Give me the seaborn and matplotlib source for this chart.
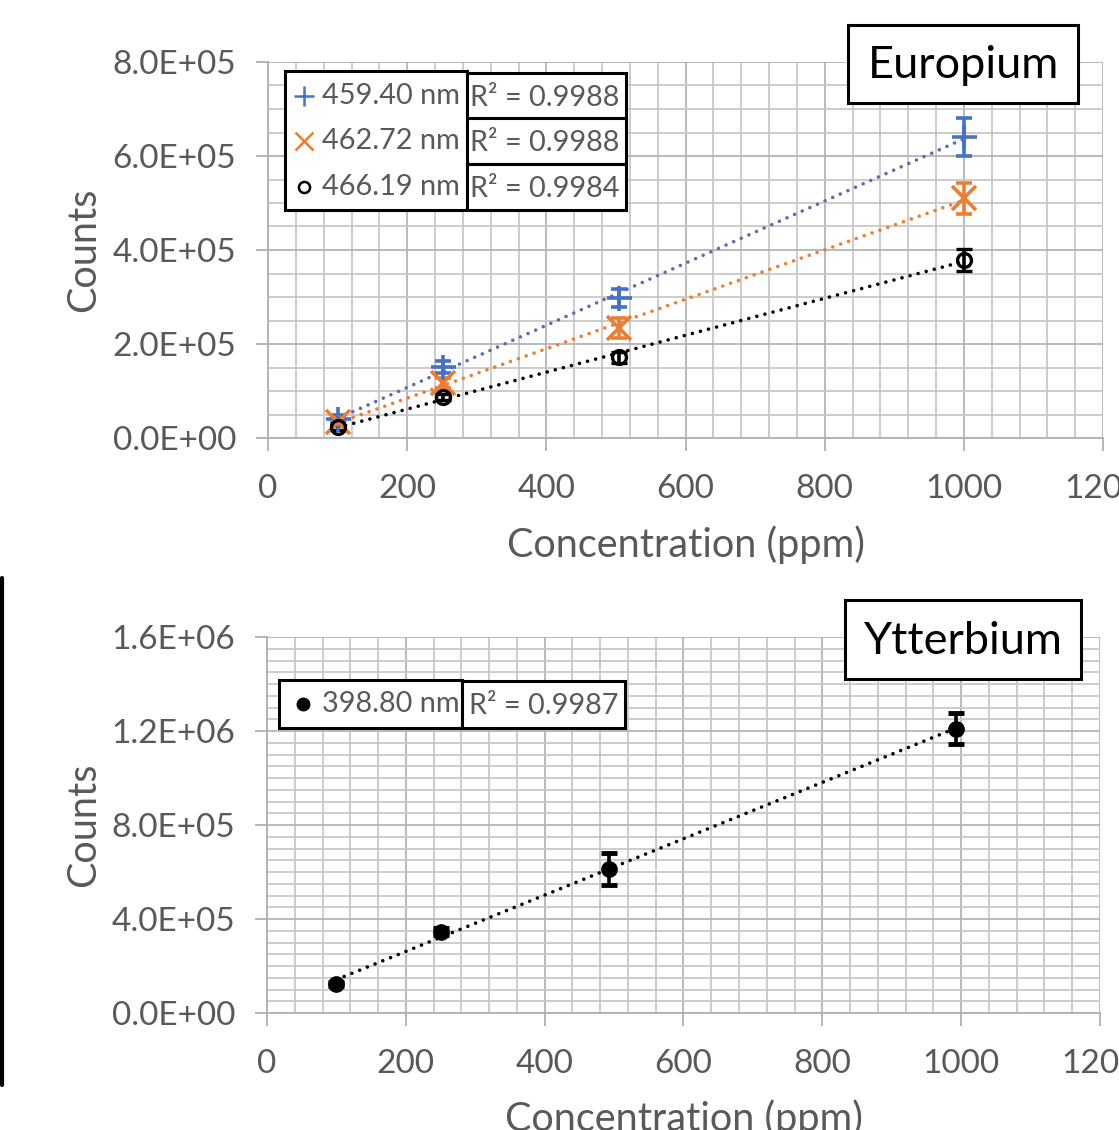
import numpy as np
import pandas as pd
import seaborn as sns
import matplotlib
matplotlib.use("Agg")
import matplotlib.pyplot as plt
from matplotlib.patches import Rectangle
from matplotlib.lines import Line2D
from matplotlib.ticker import MultipleLocator, FuncFormatter

# ---------------- data ----------------
eu_conc = [100, 252, 505, 1000]
eu_459 = [4.0e4, 1.51e5, 2.98e5, 6.40e5]
eu_459_err = [8e3, 1.2e4, 1.9e4, 4.1e4]
eu_462 = [3.4e4, 1.17e5, 2.34e5, 5.10e5]
eu_462_err = [8e3, 1.0e4, 2.1e4, 3.3e4]
eu_466 = [2.3e4, 8.7e4, 1.72e5, 3.79e5]
eu_466_err = [5e3, 6e3, 1.2e4, 2.4e4]
eu_labels = ["459.40 nm", "462.72 nm", "466.19 nm"]
eu_r2 = ["R² = 0.9988", "R² = 0.9988", "R² = 0.9984"]

yb_conc = [100, 250, 493, 993]
yb_398 = [1.23e5, 3.45e5, 6.13e5, 1.209e6]
yb_398_err = [1.0e4, 1.5e4, 6.8e4, 6.6e4]
yb_labels = ["398.80 nm"]
yb_r2 = ["R² = 0.9987"]

W, H = 1119, 1130
sns.set_style("white")
FONT = ["Lato", "DejaVu Sans"]
plt.rcParams["font.family"] = FONT
GRAY_TXT = "#595959"

fig = plt.figure(figsize=(W / 100, H / 100), dpi=100)


def fx(px):
    return px / W


def fy(py):
    return 1 - py / H


def make_axes(l, t, r, b):
    return fig.add_axes([fx(l), fy(b), fx(r) - fx(l), (b - t) / H])


ax1 = make_axes(268, 62, 1103, 438)
ax2 = make_axes(267, 637, 1100, 1013)


def style_axes(ax, ymax, ymajor):
    ax.set_xlim(0, 1200)
    ax.set_ylim(0, ymax)
    ax.xaxis.set_major_locator(MultipleLocator(200))
    ax.xaxis.set_minor_locator(MultipleLocator(40))
    ax.yaxis.set_major_locator(MultipleLocator(ymajor))
    ax.yaxis.set_minor_locator(MultipleLocator(5e4))
    ax.yaxis.set_major_formatter(FuncFormatter(lambda v, p: f"{v:.1E}"))
    ax.xaxis.set_major_formatter(FuncFormatter(lambda v, p: f"{int(round(v))}"))
    ax.grid(True, which="major", color="#b4b4b4", lw=1.3, zorder=0)
    ax.grid(True, which="minor", color="#c8c8c8", lw=1.3, zorder=0)
    ax.set_axisbelow(True)
    for s in ["top", "right"]:
        ax.spines[s].set_visible(False)
    for s in ["left", "bottom"]:
        ax.spines[s].set_color("#b0b0b0")
        ax.spines[s].set_linewidth(1.3)
    ax.tick_params(which="major", direction="out", length=9, width=1.3,
                   color="#b0b0b0", labelsize=24, labelcolor=GRAY_TXT,
                   bottom=True, left=True)
    ax.tick_params(axis="x", which="major", pad=17)
    ax.tick_params(axis="y", which="major", pad=14)
    ax.tick_params(which="minor", length=0)
    for lab in ax.get_xticklabels() + ax.get_yticklabels():
        lab.set_clip_on(False)


style_axes(ax1, 8e5, 2e5)
style_axes(ax2, 1.6e6, 4e5)

DOT = (0, (0.01, 2.3))

# ---------------- Europium ----------------
blue, orange, black = "#4472C4", "#ED7D31", "#000000"
eu_series = [
    (eu_459, eu_459_err, blue, "#5b6fa8", "+", 18, 2.6, "none"),
    (eu_462, eu_462_err, orange, orange, "x", 17, 2.6, "none"),
    (eu_466, eu_466_err, black, black, "o", 10, 2.4, "none"),
]
for vals, errs, col, lcol, mk, ms, mew, mfc in eu_series:
    df = pd.DataFrame({"conc": eu_conc, "counts": vals})
    sns.regplot(data=df, x="conc", y="counts", ax=ax1, scatter=False, ci=None,
                truncate=True,
                line_kws=dict(color=lcol, lw=2.6, ls=DOT,
                              dash_capstyle="round", zorder=3))
    ax1.errorbar(eu_conc, vals, yerr=errs, fmt=mk, color=col, ms=ms, mew=mew,
                 mfc=mfc, mec=col, ecolor=col, elinewidth=2.6, capsize=6,
                 capthick=3.5, zorder=4)

# ---------------- Ytterbium ----------------
df = pd.DataFrame({"conc": yb_conc, "counts": yb_398})
sns.regplot(data=df, x="conc", y="counts", ax=ax2, scatter=False, ci=None,
            truncate=True,
            line_kws=dict(color=black, lw=2.6, ls=DOT,
                          dash_capstyle="round", zorder=3))
ax2.errorbar(yb_conc, yb_398, yerr=yb_398_err, fmt="o", color=black, ms=11,
             ecolor=black, elinewidth=2.6, capsize=6, capthick=3.5, zorder=4)

for ax, ycx in [(ax1, -0.285), (ax2, -0.28)]:
    ax.set_xlabel("Concentration (ppm)", fontsize=28.5, color=GRAY_TXT)
    ax.set_ylabel("Counts", fontsize=28.5, color=GRAY_TXT)
    ax.xaxis.set_label_coords(0.5, ycx)
    ax.xaxis.label.set_va("center")
    ax.yaxis.set_label_coords((84 - 268) / 835, 0.5)
    ax.yaxis.label.set_va("center")
    ax.xaxis.label.set_clip_on(False)


# ---------------- boxes (legend + R² + titles) ----------------
def box(l, t, r, b, lw=2.2):
    fig.patches.append(Rectangle((fx(l), fy(b)), fx(r) - fx(l), (b - t) / H,
                                 transform=fig.transFigure, fc="white",
                                 ec="black", lw=lw, zorder=5))


# Europium title
box(848, 25, 1078, 103)
fig.text(fx(963), fy(66), "Europium", fontsize=32.5, color="black",
         ha="center", va="center", zorder=6)
# Ytterbium title
box(845, 600, 1081, 679)
fig.text(fx(963), fy(641), "Ytterbium", fontsize=32.5, color="black",
         ha="center", va="center", zorder=6)

# Europium legend
box(285, 71, 467, 210)
row_y = [96, 141, 187]
eu_marks = [("+", blue, 14, "none"), ("x", orange, 13, "none"), ("o", black, 8, "none")]
for yy, lab, (mk, col, ms, mfc) in zip(row_y, eu_labels, eu_marks):
    fig.lines.append(Line2D([fx(304)], [fy(yy)], marker=mk, ms=ms, mew=1.8,
                            color=col, mfc=mfc, transform=fig.transFigure,
                            zorder=6))
    fig.text(fx(322), fy(yy), lab, fontsize=20.8, color=GRAY_TXT,
             ha="left", va="center", zorder=6)
cells = [(73, 118), (118, 164), (164, 210)]
for (t, b), r2 in zip(cells, eu_r2):
    box(467, t, 626, b)
    fig.text(fx(470), fy((t + b) / 2 + 2), r2, fontsize=20.8, color=GRAY_TXT,
             ha="left", va="center", zorder=6)

# Ytterbium legend
box(279, 680, 462, 728)
fig.lines.append(Line2D([fx(303)], [fy(704)], marker="o", ms=9, color=black,
                        transform=fig.transFigure, zorder=6))
fig.text(fx(322), fy(704), yb_labels[0], fontsize=20.8, color=GRAY_TXT,
         ha="left", va="center", zorder=6)
box(462, 681, 625, 728)
fig.text(fx(469), fy(706), yb_r2[0], fontsize=20.8, color=GRAY_TXT,
         ha="left", va="center", zorder=6)

# left border artifact
fig.lines.append(Line2D([fx(1.5), fx(1.5)], [fy(578), fy(1085)], color="black",
                        lw=3, transform=fig.transFigure))

fig.savefig("out.png", dpi=100)
